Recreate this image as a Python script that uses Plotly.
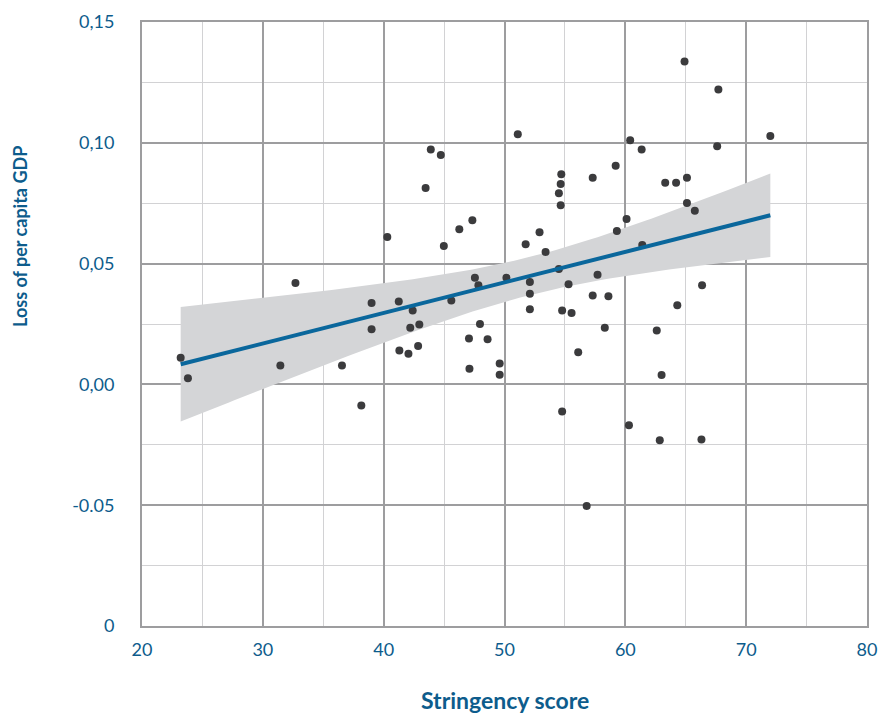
import numpy as np
import plotly.graph_objects as go

# Data
stringency = [23.2, 23.8, 31.45, 32.7, 36.55, 38.15, 39.0, 39.0, 40.3, 41.25, 41.3, 42.05, 42.2, 42.4,
              42.95, 42.85, 43.47, 43.9, 44.73, 44.98, 45.6, 46.26, 47.06, 47.1, 47.34, 47.55, 47.84,
              47.97, 48.6, 49.6, 49.6, 50.16, 51.1, 51.75, 52.1, 52.1, 52.1, 52.9, 53.4, 54.5, 54.65,
              54.7, 54.65, 54.5, 54.77, 54.77, 55.3, 55.55, 56.1, 56.8, 57.3, 57.3, 57.7, 58.3, 58.6,
              59.2, 59.3, 60.1, 60.3, 60.4, 61.35, 61.4, 62.6, 62.85, 63.0, 63.3, 64.2, 64.3, 64.9,
              65.1, 65.1, 65.75, 66.3, 66.35, 67.6, 67.7, 72.0]
gdp_loss = [0.011, 0.0025, 0.0078, 0.042, 0.0078, -0.0087, 0.0337, 0.0228, 0.061, 0.0343, 0.014, 0.0127,
            0.0234, 0.0306, 0.0248, 0.0159, 0.0813, 0.0972, 0.0949, 0.0573, 0.0347, 0.0642, 0.019, 0.0065,
            0.0679, 0.0441, 0.041, 0.025, 0.0187, 0.0086, 0.004, 0.0441, 0.1035, 0.058, 0.0424, 0.0375,
            0.0311, 0.063, 0.0548, 0.0791, 0.0829, 0.087, 0.0741, 0.0478, 0.0306, -0.0112, 0.0415, 0.0296,
            0.0133, -0.0503, 0.0855, 0.0368, 0.0454, 0.0234, 0.0365, 0.0905, 0.0635, 0.0685, -0.0169,
            0.1011, 0.0972, 0.0577, 0.0223, -0.0231, 0.0039, 0.0835, 0.0835, 0.0328, 0.1337, 0.0855,
            0.0751, 0.0719, -0.0228, 0.041, 0.0986, 0.1221, 0.1028]

x_ticks = [20, 30, 40, 50, 60, 70, 80]
y_tickvals = [-0.10, -0.05, 0.0, 0.05, 0.10, 0.15]
y_ticktext = ["0", "-0.05", "0,00", "0,05", "0,10", "0,15"]

# Linear fit with 95% confidence band
x = np.array(stringency)
y = np.array(gdp_loss)
n = len(x)
b1, b0 = np.polyfit(x, y, 1)
resid = y - (b0 + b1 * x)
s = np.sqrt(np.sum(resid ** 2) / (n - 2))
xbar = x.mean()
sxx = np.sum((x - xbar) ** 2)
xs = np.linspace(x.min(), x.max(), 100)
yfit = b0 + b1 * xs
se = s * np.sqrt(1 / n + (xs - xbar) ** 2 / sxx)
t = 1.99
upper = yfit + t * se
lower = yfit - t * se

TXT = "#0d5c8c"
W, H = 880, 713
ML, MT, MR, MB = 142, 22, 13, 87
plot_w = W - ML - MR
plot_h = H - MT - MB

fig = go.Figure()
fig.add_trace(go.Scatter(x=np.concatenate([xs, xs[::-1]]), y=np.concatenate([upper, lower[::-1]]),
                         fill="toself", fillcolor="#d4d5d7", line=dict(width=0), mode="lines",
                         hoverinfo="skip", showlegend=False))
fig.add_trace(go.Scatter(x=stringency, y=gdp_loss, mode="markers",
                         marker=dict(color="#3b3b3d", size=8), showlegend=False))
fig.add_trace(go.Scatter(x=xs, y=yfit, mode="lines", line=dict(color="#0a679c", width=4),
                         showlegend=False))

fig.update_layout(
    width=W, height=H,
    margin=dict(l=ML, r=MR, t=MT, b=MB),
    plot_bgcolor="white", paper_bgcolor="white",
    font=dict(family="Lato", color=TXT, size=18),
    xaxis=dict(range=[20, 80], tickvals=x_ticks, showgrid=True, gridcolor="#9d9d9f", gridwidth=2,
               minor=dict(tickvals=[25, 35, 45, 55, 65, 75], showgrid=True, gridcolor="#d2d2d4", gridwidth=1),
               showline=True, linecolor="#9d9d9f", linewidth=2, mirror=True, zeroline=False,
               ticks="", ticklabelstandoff=6, automargin=False),
    yaxis=dict(range=[-0.10, 0.15], tickvals=y_tickvals, ticktext=y_ticktext, showgrid=True,
               gridcolor="#9d9d9f", gridwidth=2,
               minor=dict(tickvals=[-0.075, -0.025, 0.025, 0.075, 0.125], showgrid=True,
                          gridcolor="#d2d2d4", gridwidth=1),
               showline=True, linecolor="#9d9d9f", linewidth=2, mirror=True, zeroline=False,
               ticks="", ticklabelstandoff=22, automargin=False),
    annotations=[
        dict(text="<b>Stringency score</b>", x=0.5, xref="paper", xanchor="center",
             y=0, yshift=-(716 - 626), yref="paper", yanchor="bottom",
             showarrow=False, font=dict(size=23, color=TXT)),
        dict(text="<b>Loss of per capita GDP</b>", x=(20 - ML) / plot_w, xref="paper",
             xanchor="center", y=(H - MB - 237) / plot_h, yref="paper", yanchor="middle",
             textangle=-90, showarrow=False, font=dict(size=18, color=TXT)),
    ],
)
# remove the default page margin so the 880x713 figure fills the window exactly
fig.write_html("out.html", config={"displayModeBar": False},
               post_script="document.body.style.margin='0';document.body.style.overflow='hidden';")
